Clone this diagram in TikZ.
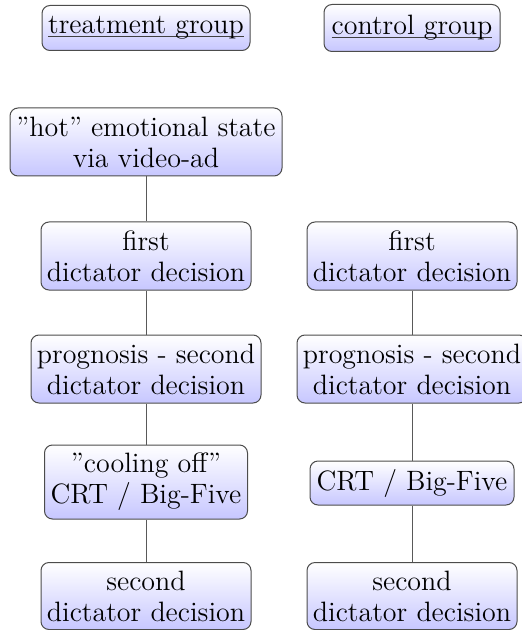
\documentclass[tikz,border=0pt]{standalone}
\newcommand\myuline[1]{\setbox0\hbox{#1}\rlap{\color{black!75}\rule[-1.7pt]{\wd0}{0.6pt}}\box0}
\begin{document}
\begin{tikzpicture}[x=0.5pt,y=-0.5pt,
  box/.style={draw=black!70, line width=0.5pt, rounded corners=4pt, top color=white, bottom color=blue!22, align=center, inner sep=0pt, font=\fontsize{14}{15.5}\selectfont},
  link/.style={draw=black!65, line width=0.5pt}]
\useasboundingbox (0,0) rectangle (521,630);
\node[box, minimum width=104pt, minimum height=22.5pt] (tg) at (146,28) {\myuline{treatment group}};
\node[box, minimum width=88pt, minimum height=23.5pt] (cg) at (412,28) {\myuline{control group}};
\node[box, minimum width=136pt, minimum height=34pt] (hot) at (146,142) {''hot'' emotional state\\via video-ad};
\node[box, minimum width=105pt, minimum height=34pt] (f1) at (146,256) {first\\dictator decision};
\node[box, minimum width=105pt, minimum height=34pt] (f2) at (412,256) {first\\dictator decision};
\node[box, minimum width=115pt, minimum height=34pt] (p1) at (146,369) {prognosis - second\\dictator decision};
\node[box, minimum width=115pt, minimum height=34pt] (p2) at (412,369) {prognosis - second\\dictator decision};
\node[box, minimum width=101.5pt, minimum height=37pt] (c1) at (146,482) {''cooling off''\\CRT / Big-Five};
\node[box, minimum width=102pt, minimum height=22pt] (c2) at (412,483) {CRT / Big-Five};
\node[box, minimum width=105pt, minimum height=33.5pt] (s1) at (146,596) {second\\dictator decision};
\node[box, minimum width=105pt, minimum height=33.5pt] (s2) at (412,596) {second\\dictator decision};
\draw[link] (hot) -- (f1);
\draw[link] (f1) -- (p1);
\draw[link] (p1) -- (c1);
\draw[link] (c1) -- (s1);
\draw[link] (f2) -- (p2);
\draw[link] (p2) -- (c2);
\draw[link] (c2) -- (s2);
\end{tikzpicture}
\end{document}
